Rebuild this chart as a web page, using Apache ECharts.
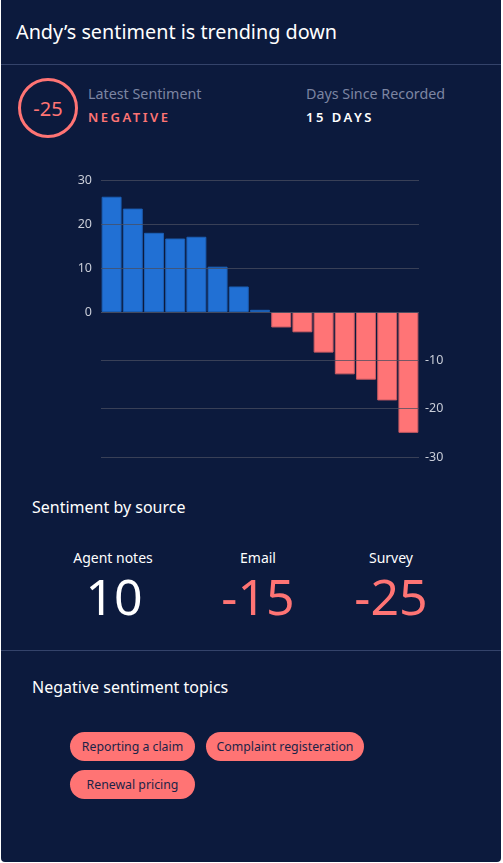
<!DOCTYPE html>
<html>
<head>
<meta charset="utf-8">
<script src="https://cdn.jsdelivr.net/npm/echarts@6/dist/echarts.min.js"></script>
<style>
  html, body { margin: 0; padding: 0; background: #ffffff; }
  body { width: 503px; height: 863px; position: relative; overflow: hidden; font-family: "Noto Sans", sans-serif; }
  .card { position: absolute; left: 1px; top: 0; width: 500px; height: 862px; background: #0c1a3d; border-radius: 0 0 4px 4px; }
  .t { position: absolute; white-space: nowrap; line-height: 1; }
  .rule { position: absolute; left: 1px; width: 500px; height: 1px; background: #34436a; }
  .ring { position: absolute; left: 18px; top: 78px; width: 54px; height: 54px; border: 3px solid #ff7474; border-radius: 50%;
          color: #ff7474; font-size: 20px; display: flex; align-items: center; justify-content: center; }
  .pill { position: absolute; height: 29px; line-height: 29px; border-radius: 15px; background: #ff7474; color: #1a2347;
          font-size: 12.3px; text-align: center; }
  .src { position: absolute; width: 140px; text-align: center; }
  #chart { position: absolute; left: 0; top: 160px; width: 503px; height: 320px; }
</style>
</head>
<body>
<div class="card"></div>
<div class="t" style="left:16px; top:22px; font-size:19.8px; color:#fff;">Andy’s sentiment is trending down</div>
<div class="rule" style="top:64px;"></div>

<div class="ring">-25</div>
<div class="t" style="left:88px; top:87px; font-size:14.3px; color:#7c85a2;">Latest Sentiment</div>
<div class="t" style="left:88px; top:111px; font-size:13px; font-weight:600; letter-spacing:2.5px; color:#ff7474;">NEGATIVE</div>
<div class="t" style="left:306px; top:87px; font-size:14.3px; color:#7c85a2;">Days Since Recorded</div>
<div class="t" style="left:306px; top:111px; font-size:13px; font-weight:600; letter-spacing:2.5px; color:#fff;">15 DAYS</div>

<div id="chart"></div>

<div class="t" style="left:32px; top:499px; font-size:16px; color:#fff;">Sentiment by source</div>
<div class="src t" style="left:43px; top:551px; font-size:14px; color:#fff;">Agent notes</div>
<div class="src t" style="left:44px; top:571px; font-size:50px; color:#fff;">10</div>
<div class="src t" style="left:188px; top:551px; font-size:14px; color:#fff;">Email</div>
<div class="src t" style="left:188px; top:571px; font-size:50px; color:#ff7474;">-15</div>
<div class="src t" style="left:321px; top:551px; font-size:14px; color:#fff;">Survey</div>
<div class="src t" style="left:321px; top:571px; font-size:50px; color:#ff7474;">-25</div>

<div class="rule" style="top:650px;"></div>
<div class="t" style="left:32px; top:679px; font-size:16px; color:#fff;">Negative sentiment topics</div>
<div class="pill" style="left:70px; top:732px; width:125px;">Reporting a claim</div>
<div class="pill" style="left:206px; top:732px; width:158px;">Complaint registeration</div>
<div class="pill" style="left:70px; top:770px; width:125px;">Renewal pricing</div>

<script>
// daily sentiment scores, oldest first
const days = ['D1', 'D2', 'D3', 'D4', 'D5', 'D6', 'D7', 'D8', 'D9', 'D10', 'D11', 'D12', 'D13', 'D14', 'D15'];
const sentiment = [26.2, 23.5, 18.0, 16.7, 17.1, 10.3, 5.8, 0.5, -3.2, -4.2, -8.4, -12.9, -14.0, -18.3, -25];
const positiveTicks = [0, 30, 10];   // min, max, step
const negativeTicks = [-30, 0, 10];

const positive = sentiment.map(v => (v >= 0 ? v : '-'));
const negative = sentiment.map(v => (v < 0 ? v : '-'));

const chart = echarts.init(document.getElementById('chart'));

const gridLine = { show: true, lineStyle: { color: 'rgba(72,78,96,0.75)', width: 1 } };
const tickLabel = { color: '#c9cdd8', fontSize: 12.5, fontFamily: 'Noto Sans' };

chart.setOption({
    animation: false,
    grid: [
        { left: 101, width: 318, top: 20, height: 132 },
        { left: 101, width: 318, top: 152, height: 145 }
    ],
    xAxis: [
        { type: 'category', gridIndex: 0, data: days, show: false },
        { type: 'category', gridIndex: 1, data: days, show: false }
    ],
    yAxis: [
        {
            type: 'value', gridIndex: 0, position: 'left', z: 5,
            min: positiveTicks[0], max: positiveTicks[1], interval: positiveTicks[2],
            axisLine: { show: false }, axisTick: { show: false },
            axisLabel: Object.assign({ margin: 9 }, tickLabel),
            splitLine: gridLine
        },
        {
            type: 'value', gridIndex: 1, position: 'right', z: 5,
            min: negativeTicks[0], max: negativeTicks[1], interval: negativeTicks[2],
            axisLine: { show: false }, axisTick: { show: false },
            axisLabel: Object.assign({ margin: 6, formatter: v => (v === 0 ? '' : v) }, tickLabel),
            splitLine: gridLine
        }
    ],
    series: [
        {
            type: 'bar', xAxisIndex: 0, yAxisIndex: 0, data: positive,
            barCategoryGap: '6%',
            itemStyle: { color: '#2170d4', borderColor: '#1c5fb4', borderWidth: 1 }
        },
        {
            type: 'bar', xAxisIndex: 1, yAxisIndex: 1, data: negative,
            barCategoryGap: '6%',
            itemStyle: { color: '#ff7476', borderColor: '#c95c64', borderWidth: 1 }
        }
    ]
});
window.addEventListener('resize', () => chart.resize());
</script>
</body>
</html>
